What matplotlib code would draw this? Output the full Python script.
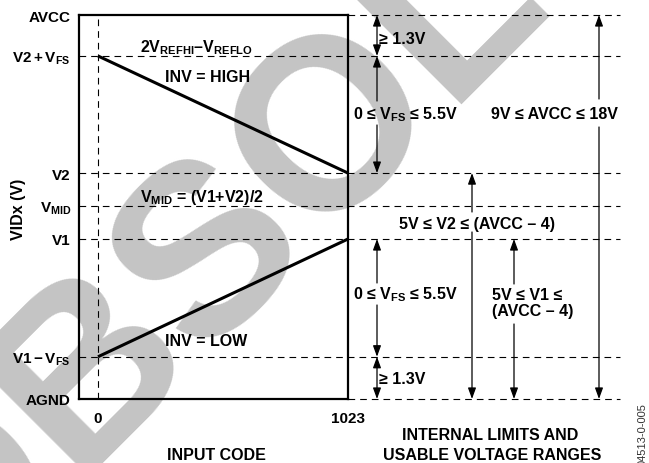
import matplotlib
matplotlib.use('Agg')
import matplotlib.pyplot as plt

plt.rcParams['font.family'] = ['Liberation Sans', 'DejaVu Sans']
plt.rcParams['font.weight'] = 'bold'
plt.rcParams['mathtext.fontset'] = 'custom'
plt.rcParams['mathtext.rm'] = 'Liberation Sans:bold'
plt.rcParams['mathtext.bf'] = 'Liberation Sans:bold'
plt.rcParams['mathtext.it'] = 'Liberation Sans:bold'
plt.rcParams['mathtext.default'] = 'rm'

# ---------------- data ----------------
level_values = [0.0, 1.32, 5.0, 6.03, 7.06, 10.72, 12.0]   # AGND, V1-VFS, V1, VMID, V2, V2+VFS, AVCC
level_labels = ['AGND', r'$V1 - V_{FS}$', 'V1', r'$V_{MID}$', 'V2', r'$V2 + V_{FS}$', 'AVCC']
code_ticks = [0, 1023]
code_labels = ['0', '1023']
inv_high_codes = [0, 1023]
inv_high_volts = [10.72, 7.06]
inv_low_codes = [0, 1023]
inv_low_volts = [1.32, 5.0]

AGND, V1MF, V1, VMID, V2, V2PF, AVCC = level_values

# ---------------- layout ----------------
W, H = 649, 464
fig = plt.figure(figsize=(W / 100, H / 100), dpi=100)


def fx(px):
    return px / W


def fy(py):
    return 1 - py / H


BOX_L, BOX_R, BOX_T, BOX_B = 79, 348, 16, 400
X0_PX, X1_PX = 98, 348
ax = fig.add_axes([fx(BOX_L), fy(BOX_B), (BOX_R - BOX_L) / W, (BOX_B - BOX_T) / H])
ax.patch.set_visible(False)

code_per_px = (code_ticks[1] - code_ticks[0]) / (X1_PX - X0_PX)
volt_per_px = (AVCC - AGND) / (BOX_B - BOX_T)


def cx(px):
    return (px - X0_PX) * code_per_px


def vy(py):
    return (BOX_B - py) * volt_per_px


ax.set_xlim(cx(BOX_L), code_ticks[1])
ax.set_ylim(AGND, AVCC)
for s in ax.spines.values():
    s.set_linewidth(1.6)
ax.set_xticks(code_ticks, code_labels)
ax.set_yticks(level_values, level_labels)
ax.tick_params(axis='x', length=0, pad=9, labelsize=11)
ax.tick_params(axis='y', length=0, pad=5.8, labelsize=11)

# watermark
fig.text(fx(370), fy(98), 'OBSOLETE', fontsize=175, color='#c4c4c4', rotation=45,
         rotation_mode='anchor', ha='center', va='center', zorder=-5, fontweight='bold')

# dashed guide lines
dash = (0, (6, 4.5))
x_end = cx(620)
for v in level_values:
    x_start = cx(BOX_R) if v in (AGND, AVCC) else cx(BOX_L)
    ax.plot([x_start, x_end], [v, v], color='black', lw=0.8, ls=dash, clip_on=False, zorder=2)
ax.plot([code_ticks[0], code_ticks[0]], [AGND, AVCC], color='black', lw=0.8, ls=dash, zorder=2)

# transfer lines
ax.plot(inv_high_codes, inv_high_volts, color='black', lw=2.2, solid_capstyle='butt', zorder=3)
ax.plot(inv_low_codes, inv_low_volts, color='black', lw=2.2, solid_capstyle='butt', zorder=3)


def arrow(x, y_from, y_to, both=False):
    style = '<|-|>' if both else '-|>'
    ax.annotate('', xy=(x, y_to), xytext=(x, y_from), annotation_clip=False,
                arrowprops=dict(arrowstyle=f'{style},head_length=0.55,head_width=0.2',
                                lw=0.9, color='black', shrinkA=0, shrinkB=0,
                                mutation_scale=12))


xa = cx(377)
arrow(xa, V2PF, AVCC, both=True)
arrow(xa, vy(102), V2PF)
arrow(xa, vy(126), V2)
arrow(xa, vy(284), V1)
arrow(xa, vy(306), V1MF)
arrow(xa, AGND, V1MF, both=True)
xb = cx(472)
arrow(xb, vy(213), V2)
arrow(xb, vy(233), AGND)
xc = cx(514)
arrow(xc, vy(285), V1)
arrow(xc, vy(325), AGND)
xd = cx(599)
arrow(xd, vy(100), AVCC)
arrow(xd, vy(128), AGND)


def txt(px, py, s, ha='left', va='baseline', size=11.5, **kw):
    fig.text(fx(px), fy(py), s, ha=ha, va=va, fontsize=size, **kw)


# inside box
txt(140, 52.5, r'2$V_{REFHI}$–$V_{REFLO}$')
txt(165, 82.3, 'INV = HIGH')
txt(140, 202, r'$V_{MID}$ = (V1+V2)/2')
txt(165, 345.7, 'INV = LOW')

# ranges
txt(379, 43.5, '≥ 1.3V')
txt(379, 384.5, '≥ 1.3V')
txt(353, 119, r'0 ≤ $V_{FS}$ ≤ 5.5V')
txt(353, 299.5, r'0 ≤ $V_{FS}$ ≤ 5.5V')
txt(491, 119, '9V ≤ AVCC ≤ 18V')
txt(399, 229.5, '5V ≤ V2 ≤ (AVCC – 4)')
txt(492, 299.5, '5V ≤ V1 ≤')
txt(492, 316, '(AVCC – 4)')

# axis titles
txt(216, 460, 'INPUT CODE', ha='center')
txt(490, 440, 'INTERNAL LIMITS AND', ha='center')
txt(492, 460, 'USABLE VOLTAGE RANGES', ha='center')
txt(19, 209, 'VIDx (V)', ha='center', va='center', rotation=90)
txt(643, 434.5, '04513-0-005', ha='center', va='center', rotation=90, size=8,
    fontweight='normal', color='#333333')

fig.savefig('out.png', dpi=100)
